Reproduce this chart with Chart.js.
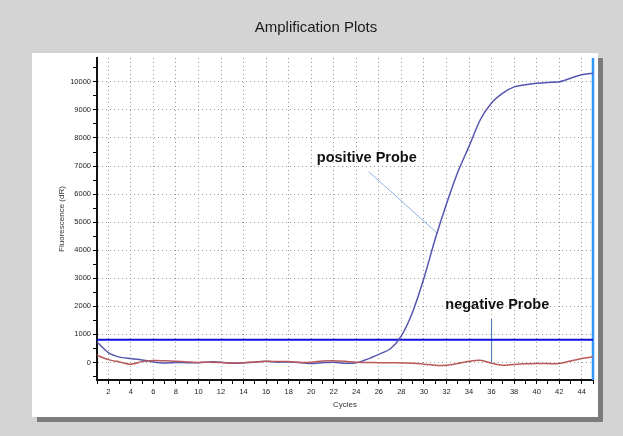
<!DOCTYPE html>
<html>
<head>
<meta charset="utf-8">
<title>Amplification Plots</title>
<script src="https://cdn.jsdelivr.net/npm/chart.js@4.4.1/dist/chart.umd.min.js"></script>
<style>
    html, body { margin: 0; padding: 0; background: #d4d4d4; }
    #wrap { position: relative; width: 623px; height: 436px; }
</style>
</head>
<body>
<div id="wrap"><canvas id="ampChart" width="623" height="436"></canvas></div>
<script>
// ===================================
// Amplification plot - qPCR curves
// ===================================

const chartTitle = 'Amplification Plots';
const xAxisTitle = 'Cycles';
const yAxisTitle = 'Fluorescence (dR)';

const cycles = [1, 2, 3, 4, 5, 6, 7, 8, 9, 10, 11, 12, 13, 14, 15, 16, 17, 18, 19, 20, 21, 22, 23,
    24, 25, 26, 27, 28, 29, 30, 31, 32, 33, 34, 35, 36, 37, 38, 39, 40, 41, 42, 43, 44, 45];

const positiveProbe = [730, 350, 190, 140, 90, 20, -20, 0, -10, -10, 20, 10, -30, -10, 10, 40, 10, 20, 0, -40, -10, 10, -30,
    -10, 120, 290, 480, 950, 1800, 3000, 4400, 5650, 6780, 7700, 8650, 9250, 9600, 9820, 9900, 9950, 9980, 10000, 10130, 10250, 10310];

const negativeProbe = [260, 100, 20, -60, 30, 70, 60, 40, 20, 0, 10, 0, -20, -10, 20, 40, 30, 30, 0, 10, 50, 60, 40,
    10, 0, -10, -10, -20, -30, -60, -100, -100, -40, 40, 80, -30, -100, -70, -50, -40, -40, -40, 50, 140, 200];

// y tick marks every 500, labelled every 1000
const yTickValues = [-500, 0, 500, 1000, 1500, 2000, 2500, 3000, 3500, 4000, 4500, 5000, 5500,
    6000, 6500, 7000, 7500, 8000, 8500, 9000, 9500, 10000, 10500];

const thresholdLevel = 810;
const lastCycle = 45;
const yMin = -625;
const yMax = 10850;

// callouts: label, text anchor (cycle, dR), pointer start and end (cycle, dR)
const calloutLabels = ['positive Probe', 'negative Probe'];
const calloutTextAt = [[20.5, 7300], [31.9, 2050]];
const calloutLineFrom = [[25.1, 6800], [36, 1550]];
const calloutLineTo = [[31.2, 4600], [36, 0]];

function toPoints(xs, ys) {
    return xs.map((x, i) => ({ x: x, y: ys[i] }));
}

// Gray window, white panel with shadow, and the title
const framePlugin = {
    id: 'frame',
    beforeDraw(chart) {
        const ctx = chart.ctx;
        ctx.save();
        ctx.fillStyle = '#d4d4d4';
        ctx.fillRect(0, 0, chart.width, chart.height);
        // shadow
        ctx.fillStyle = '#7c7c7c';
        ctx.fillRect(37, 58, 566, 364);
        // panel
        ctx.fillStyle = '#ffffff';
        ctx.fillRect(32, 53, 566, 364);
        // title
        ctx.fillStyle = '#1a1a1a';
        ctx.font = '15px "Liberation Sans", Arial, sans-serif';
        ctx.textAlign = 'center';
        ctx.textBaseline = 'middle';
        ctx.fillText(chartTitle, 316, 28);
        ctx.restore();
    }
};

// Callout texts
const calloutPlugin = {
    id: 'callouts',
    afterDatasetsDraw(chart) {
        const ctx = chart.ctx;
        const xs = chart.scales.x;
        const ys = chart.scales.y;
        ctx.save();
        ctx.fillStyle = '#111111';
        ctx.font = 'bold 14.5px "Liberation Sans", Arial, sans-serif';
        ctx.textAlign = 'left';
        ctx.textBaseline = 'middle';
        calloutLabels.forEach((label, i) => {
            ctx.fillText(label, xs.getPixelForValue(calloutTextAt[i][0]), ys.getPixelForValue(calloutTextAt[i][1]));
        });
        ctx.restore();
    }
};

const tickFont = { family: '"Liberation Sans", Arial, sans-serif', size: 7.5 };
const titleFont = { family: '"Liberation Sans", Arial, sans-serif', size: 8 };

const ampChart = new Chart(document.getElementById('ampChart'), {
    type: 'line',
    data: {
        datasets: [
            {
                label: 'negative Probe',
                data: toPoints(cycles, negativeProbe),
                borderColor: '#b85a5a',
                borderWidth: 1.5,
                tension: 0.25
            },
            {
                label: 'positive Probe',
                data: toPoints(cycles, positiveProbe),
                borderColor: '#5656b0',
                borderWidth: 1.5,
                tension: 0.25
            },
            {
                label: 'Threshold',
                data: [{ x: cycles[0], y: thresholdLevel }, { x: lastCycle, y: thresholdLevel }],
                borderColor: '#1010dc',
                borderWidth: 2
            },
            {
                label: 'Last cycle',
                data: [{ x: lastCycle, y: yMin }, { x: lastCycle, y: yMax }],
                borderColor: '#3399ff',
                borderWidth: 2.5,
                clip: false
            },
            {
                label: 'positive pointer',
                data: [{ x: calloutLineFrom[0][0], y: calloutLineFrom[0][1] }, { x: calloutLineTo[0][0], y: calloutLineTo[0][1] }],
                borderColor: '#8db4e2',
                borderWidth: 1
            },
            {
                label: 'negative pointer',
                data: [{ x: calloutLineFrom[1][0], y: calloutLineFrom[1][1] }, { x: calloutLineTo[1][0], y: calloutLineTo[1][1] }],
                borderColor: '#4f81bd',
                borderWidth: 1
            }
        ]
    },
    options: {
        responsive: false,
        animation: false,
        parsing: false,
        elements: { point: { radius: 0 } },
        layout: { padding: { left: 0, right: 30, top: 58, bottom: 0 } },
        plugins: {
            legend: { display: false },
            tooltip: { enabled: false },
            title: { display: false }
        },
        scales: {
            x: {
                type: 'linear',
                min: 1,
                max: lastCycle,
                afterFit(scale) { scale.height = 56; },
                ticks: {
                    stepSize: 1,
                    autoSkip: false,
                    maxRotation: 0,
                    padding: 3,
                    color: '#222',
                    font: tickFont,
                    callback: v => (v % 2 === 0 ? String(v) : '')
                },
                grid: {
                    color: c => (c.tick && c.tick.value % 2 === 0 ? '#9a9a9a' : 'rgba(0,0,0,0)'),
                    lineWidth: 1,
                    tickColor: '#000',
                    tickLength: 4,
                    tickBorderDash: []
                },
                border: { color: '#111', width: 2, dash: [1, 3] },
                title: {
                    display: true,
                    text: xAxisTitle,
                    color: '#333',
                    font: titleFont,
                    padding: { top: 0, bottom: 26 }
                }
            },
            y: {
                type: 'linear',
                min: yMin,
                max: yMax,
                afterFit(scale) { scale.width = 97; },
                afterBuildTicks(scale) {
                    scale.ticks = yTickValues.map(v => ({ value: v }));
                },
                ticks: {
                    autoSkip: false,
                    padding: 2,
                    color: '#222',
                    font: tickFont,
                    callback: v => (v % 1000 === 0 ? String(v) : '')
                },
                grid: {
                    color: c => (c.tick && c.tick.value % 1000 === 0 ? '#9a9a9a' : 'rgba(0,0,0,0)'),
                    lineWidth: 1,
                    tickColor: '#000',
                    tickLength: 4,
                    tickBorderDash: []
                },
                border: { color: '#111', width: 2, dash: [1, 3] },
                title: {
                    display: true,
                    text: yAxisTitle,
                    color: '#333',
                    font: titleFont,
                    padding: { top: 57, bottom: 0 }
                }
            }
        }
    },
    plugins: [framePlugin, calloutPlugin]
});
</script>
</body>
</html>
